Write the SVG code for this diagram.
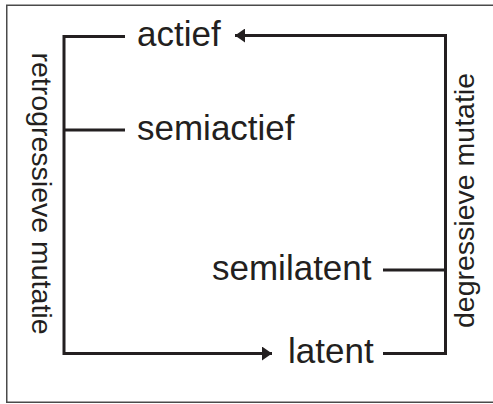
<svg xmlns="http://www.w3.org/2000/svg" width="493" height="404" viewBox="0 0 493 404">
<style>
.lbl{font-family:"Liberation Sans",Arial,sans-serif;font-size:35px;fill:#231f20}
.side{font-family:"Liberation Sans",Arial,sans-serif;font-size:28.5px;fill:#231f20;text-anchor:middle}
.con{fill:none;stroke:#231f20;stroke-width:3;stroke-linejoin:miter}
</style>
<defs>
<marker id="ah" viewBox="0 0 10 14" refX="10" refY="7" markerWidth="10" markerHeight="14" markerUnits="userSpaceOnUse" orient="auto">
<path d="M0,0 L10,7 L0,14 Z" fill="#231f20"/>
</marker>
</defs>
<rect x="6.75" y="5.25" width="500" height="397" fill="#fff" stroke="#4a4a4a" stroke-width="1.5"/>
<g id="connectors">
<path class="con" d="M125,36.5 H64 V353.5 H272" marker-end="url(#ah)"/>
<path class="con" d="M64,130 H125"/>
<path class="con" d="M383,353.5 H445.5 V35.5 H235" marker-end="url(#ah)"/>
<path class="con" d="M383,270 H445.5"/>
</g>
<g id="actief"><text class="lbl" x="137" y="46">actief</text></g>
<g id="semiactief"><text class="lbl" x="137" y="140">semiactief</text></g>
<g id="semilatent"><text class="lbl" x="212" y="280">semilatent</text></g>
<g id="latent"><text class="lbl" x="288" y="363">latent</text></g>
<g id="retrogressieve"><text class="side" transform="translate(32,193.5) rotate(90)">retrogressieve mutatie</text></g>
<g id="degressieve"><text class="side" transform="translate(474,200.5) rotate(-90)">degressieve mutatie</text></g>
</svg>
